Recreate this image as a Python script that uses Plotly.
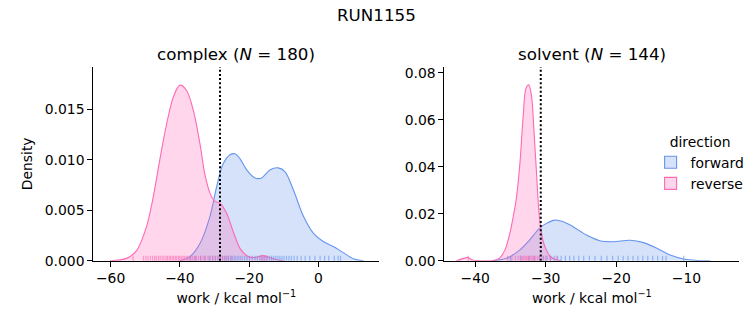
import plotly.graph_objects as go

# ---------------- data ----------------
complex_fwd_x = [-40.0, -37.1, -34.2, -31.3, -29.4, -27.5, -25.5, -24.1, -22.6, -20.7, -18.3, -16.4,
                 -14.0, -11.6, -9.6, -7.2, -4.3, -1.4, 1.4, 4.3, 7.2, 10.1, 13.0]
complex_fwd_y = [0.0, 0.0004, 0.0017, 0.0044, 0.0073, 0.0096, 0.0105, 0.0106, 0.0101, 0.0090, 0.0082, 0.0082,
                 0.0090, 0.0092, 0.0088, 0.0070, 0.0044, 0.0027, 0.0019, 0.0014, 0.0008, 0.0002, 0.0]
complex_rev_x = [-60.2, -55.4, -52.5, -49.6, -47.7, -45.8, -43.8, -41.9, -40.0, -38.1, -36.1, -34.2, -32.8,
                 -31.3, -29.9, -28.4, -26.5, -24.6, -22.6, -20.7, -18.8, -15.9, -13.0, -10.1]
complex_rev_y = [0.0, 0.00023, 0.0010, 0.0034, 0.0063, 0.0100, 0.0136, 0.0162, 0.0174, 0.0169, 0.0149, 0.0116,
                 0.0086, 0.0067, 0.0059, 0.0057, 0.0047, 0.0029, 0.0012, 0.0005, 0.0003, 0.0005, 0.0002, 0.0]
solvent_fwd_x = [-37.5, -35.6, -33.7, -32.3, -30.9, -29.9, -28.7, -27.5, -26.1, -24.2, -22.3, -20.4, -18.0,
                 -16.1, -14.2, -12.3, -10.4, -8.5, -6.6]
solvent_fwd_y = [0.0, 0.0010, 0.0045, 0.0088, 0.0138, 0.0159, 0.0173, 0.0166, 0.0145, 0.0109, 0.0085, 0.0081,
                 0.0087, 0.0077, 0.0053, 0.0024, 0.0007, 0.0001, 0.0]
solvent_rev_x = [-42.7, -41.6, -41.1, -40.4, -39.4, -37.5, -36.6, -35.8, -35.1, -34.7, -34.2, -33.7, -33.2,
                 -32.8, -32.4, -32.0, -31.7, -31.3, -30.9, -30.4, -29.9, -29.4, -28.7, -27.8]
solvent_rev_y = [0.0, 0.0010, 0.0014, 0.0003, 0.0, 0.0001, 0.0010, 0.0045, 0.0116, 0.0173, 0.0259, 0.0400,
                 0.0614, 0.0734, 0.0749, 0.0699, 0.0571, 0.0372, 0.0188, 0.0088, 0.0045, 0.0020, 0.0006, 0.0]

complex_fwd_rug = [-37.0, -35.5, -34.0, -32.8, -31.5, -30.6, -29.8, -29.0, -28.3, -27.7, -27.1, -26.5, -26.0,
                   -25.4, -24.9, -24.3, -23.8, -23.2, -22.6, -22.0, -21.3, -20.6, -19.9, -19.1, -18.3, -17.6,
                   -16.9, -16.2, -15.5, -14.8, -14.1, -13.5, -12.9, -12.3, -11.7, -11.1, -10.5, -9.9, -9.2,
                   -8.5, -7.8, -7.0, -6.1, -5.0, -3.8, -2.5, -1.0, 0.5, 1.8, 3.0, 4.6, 5.7, 6.4]
complex_rev_rug = [-53.5, -50.5, -49.8, -49.2, -48.5, -47.9, -47.3, -46.8, -46.2, -45.7, -45.1, -44.6, -44.0,
                   -43.6, -43.1, -42.7, -42.2, -41.8, -41.3, -40.9, -40.4, -40.0, -39.6, -39.1, -38.7, -38.2,
                   -37.8, -37.3, -36.8, -36.3, -35.8, -35.2, -34.6, -34.0, -33.3, -32.6, -31.9, -31.2, -30.4,
                   -29.7, -29.0, -28.3, -27.6, -26.9, -26.0, -25.0, -16.5, -15.8, -15.0]
solvent_fwd_rug = [-35.0, -33.5, -32.4, -31.6, -30.9, -30.3, -29.8, -29.3, -28.8, -28.3, -27.8, -27.2, -26.6,
                   -26.0, -25.3, -24.6, -23.8, -23.0, -22.1, -21.3, -20.5, -19.7, -19.0, -18.3, -17.6, -16.9,
                   -16.2, -15.5, -14.8, -14.1, -13.4, -12.9, -10.4]
solvent_rev_rug = [-41.0, -35.4, -34.8, -34.3, -33.9, -33.6, -33.3, -33.1, -32.9, -32.7, -32.5, -32.3, -32.1,
                   -31.9, -31.7, -31.5, -31.2, -30.9, -30.5, -30.0, -29.4, -28.5]

complex_line = -28.4
solvent_line = -30.7

panel_titles = ["complex (<i>N</i> = 180)", "solvent (<i>N</i> = 144)"]
suptitle = "RUN1155"
x_label = "work / kcal mol<sup>−1</sup>"
y_label = "Density"
legend_title = "direction"
directions = ["forward", "reverse"]

complex_xrange = [-65.0, 17.6]
complex_yrange = [0, 0.0192]
solvent_xrange = [-44.4, -2.5]
solvent_yrange = [0, 0.0825]
complex_xticks = [-60, -40, -20, 0]
complex_yticks = [0.0, 0.005, 0.010, 0.015]
solvent_xticks = [-40, -30, -20, -10]
solvent_yticks = [0.0, 0.02, 0.04, 0.06, 0.08]

# ---------------- styling ----------------
BLUE = "#6495ED"
PINK = "#FF69B4"
BLUE_FILL = "rgba(100,149,237,0.27)"
PINK_FILL = "rgba(255,105,180,0.27)"
BLUE_RUG = "rgba(100,149,237,0.6)"
PINK_RUG = "rgba(255,105,180,0.6)"
FONT = "DejaVu Sans"
FS = 13.9

W, H = 753, 325
fig = go.Figure()

panels = [
    dict(xa="x", ya="y", fx=complex_fwd_x, fy=complex_fwd_y, rx=complex_rev_x, ry=complex_rev_y,
         frug=complex_fwd_rug, rrug=complex_rev_rug, vline=complex_line, yr=complex_yrange),
    dict(xa="x2", ya="y2", fx=solvent_fwd_x, fy=solvent_fwd_y, rx=solvent_rev_x, ry=solvent_rev_y,
         frug=solvent_fwd_rug, rrug=solvent_rev_rug, vline=solvent_line, yr=solvent_yrange),
]

for p in panels:
    for xs, ys, lc, fc in [(p["fx"], p["fy"], BLUE, BLUE_FILL), (p["rx"], p["ry"], PINK, PINK_FILL)]:
        fig.add_trace(go.Scatter(x=xs, y=ys, xaxis=p["xa"], yaxis=p["ya"], mode="lines",
                                 line=dict(color=lc, width=1.1, shape="spline", smoothing=0.9),
                                 fill="tozeroy", fillcolor=fc, showlegend=False, hoverinfo="skip"))
    h = 0.025 * (p["yr"][1] - p["yr"][0])
    for rug, rc in [(p["frug"], BLUE_RUG), (p["rrug"], PINK_RUG)]:
        fig.add_trace(go.Scatter(x=rug, y=[h / 2] * len(rug), xaxis=p["xa"], yaxis=p["ya"], mode="markers",
                                 marker=dict(symbol="line-ns", size=3.6, line=dict(color=rc, width=1.2)),
                                 showlegend=False, hoverinfo="skip", cliponaxis=False))
    fig.add_trace(go.Scatter(x=[p["vline"], p["vline"]], y=[p["yr"][0], p["yr"][1]], xaxis=p["xa"], yaxis=p["ya"],
                             mode="lines", line=dict(color="black", width=2, dash="2px,2.2px"),
                             showlegend=False, hoverinfo="skip"))

# legend entries
for name, lc, fc in [(directions[0], BLUE, BLUE_FILL), (directions[1], PINK, PINK_FILL)]:
    fig.add_trace(go.Bar(x=[None], y=[None], name=name, xaxis="x2", yaxis="y2",
                         marker=dict(color=fc, line=dict(color=lc, width=1.1))))

dom_y = [1 - 260.7 / H, 1 - 67.0 / H]
dom_x1 = [93.3 / W, 379.3 / W]
dom_x2 = [444.3 / W, 739.3 / W]

axis_common = dict(showline=True, linecolor="black", linewidth=1.1, ticks="outside", ticklen=4.9,
                   tickwidth=1.1, tickcolor="black", showgrid=False, zeroline=False, mirror=False,
                   tickfont=dict(family=FONT, size=FS, color="black"), automargin=False)

fig.update_layout(
    width=W, height=H, margin=dict(l=0, r=0, t=0, b=0),
    paper_bgcolor="white", plot_bgcolor="white",
    font=dict(family=FONT, color="black"),
    xaxis=dict(domain=dom_x1, anchor="y", range=complex_xrange, tickvals=complex_xticks,
               title=dict(text=x_label, font=dict(size=FS), standoff=7), **axis_common),
    yaxis=dict(domain=dom_y, anchor="x", range=complex_yrange, tickvals=complex_yticks, tickformat=".3f",
               title=dict(text=y_label, font=dict(size=FS), standoff=8), **axis_common),
    xaxis2=dict(domain=dom_x2, anchor="y2", range=solvent_xrange, tickvals=solvent_xticks,
                title=dict(text=x_label, font=dict(size=FS), standoff=7), **axis_common),
    yaxis2=dict(domain=dom_y, anchor="x2", range=solvent_yrange, tickvals=solvent_yticks, tickformat=".2f",
                **axis_common),
    showlegend=True,
    legend=dict(x=0.864, y=0.604, xanchor="left", yanchor="top", bgcolor="rgba(0,0,0,0)",
                title=dict(text=legend_title, side="top center", font=dict(size=FS)),
                font=dict(size=FS), tracegroupgap=0, itemwidth=30),
    annotations=[
        dict(text=suptitle, x=0.5, y=1, xref="paper", yref="paper", xanchor="center", yanchor="top",
             yshift=-3, showarrow=False, font=dict(size=16.7)),
        dict(text=panel_titles[0], x=(dom_x1[0] + dom_x1[1]) / 2, y=dom_y[1], xref="paper", yref="paper",
             xanchor="center", yanchor="bottom", yshift=1, showarrow=False, font=dict(size=16.7)),
        dict(text=panel_titles[1], x=(dom_x2[0] + dom_x2[1]) / 2, y=dom_y[1], xref="paper", yref="paper",
             xanchor="center", yanchor="bottom", yshift=1, showarrow=False, font=dict(size=16.7)),
    ],
)

fig.write_html("out.html")
